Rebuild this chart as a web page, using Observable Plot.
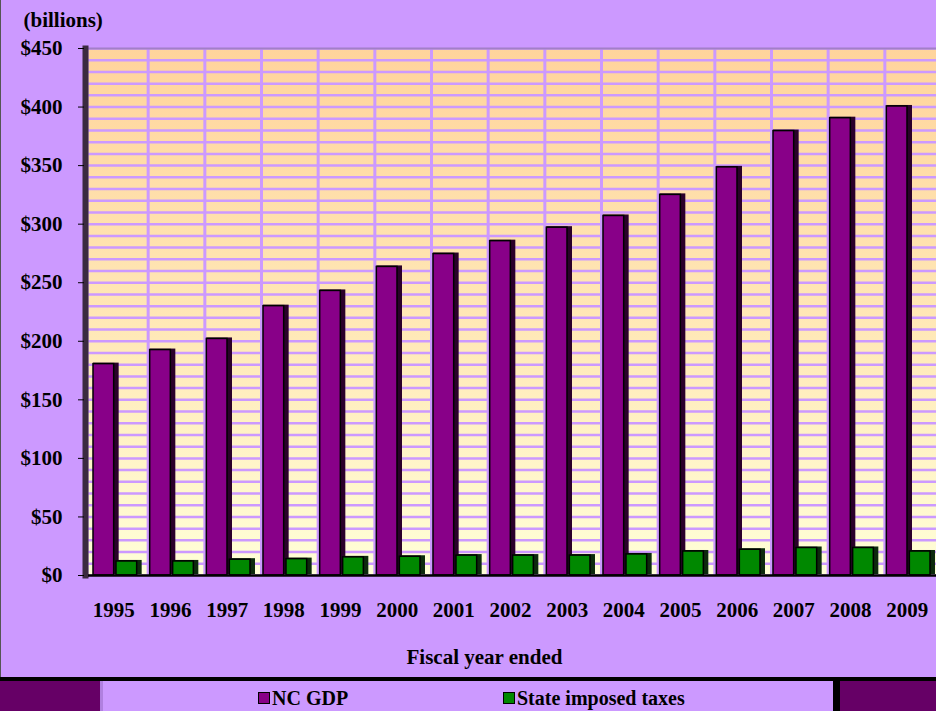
<!DOCTYPE html>
<html>
<head>
<meta charset="utf-8">
<script src="https://cdn.jsdelivr.net/npm/d3@7"></script>
<script src="https://cdn.jsdelivr.net/npm/@observablehq/plot@0.6"></script>
<style>
  html, body { margin: 0; padding: 0; background: #CC99FF; }
  body { width: 936px; height: 711px; overflow: hidden; font-family: "Liberation Serif", "Times New Roman", serif; }
  #chart { position: relative; width: 935px; height: 677px; border-left: 1px solid #555; }
  #legend { position: relative; width: 936px; height: 34px; border-top: 4px solid #000; box-sizing: border-box; background: #CC99FF; }
  .blk { position: absolute; top: 0; height: 30px; background: #660066; }
  .item { position: absolute; top: 5px; font-weight: bold; font-size: 20px; line-height: 24px; color: #000; display: flex; align-items: center; }
  .sw { width: 10px; height: 10px; border: 1.5px solid #000; margin-right: 2px; }
</style>
</head>
<body>
<div id="chart"></div>
<div id="legend">
  <div class="blk" style="left:0;width:103px;border-right:3px solid #b080e0;box-sizing:border-box;"></div>
  <div class="blk" style="left:833px;width:103px;border-left:7px solid #000;box-sizing:border-box;"></div>
  <div class="item" style="left:258px;"><span class="sw" style="background:#880088"></span>NC GDP</div>
  <div class="item" style="left:503px;"><span class="sw" style="background:#008800"></span>State imposed taxes</div>
</div>
<script>
const years = ["1995","1996","1997","1998","1999","2000","2001","2002","2003","2004","2005","2006","2007","2008","2009"];
const ncGdp = [180.5, 192.5, 202, 230, 243, 263.5, 274.5, 285.5, 297, 307, 325, 348.5, 379.5, 390.5, 400.5];
const stateTaxes = [12, 12, 13.5, 14, 15.5, 16, 17, 17, 17, 18, 20.5, 22, 23.5, 23.5, 20.5];
const yTicks = [0, 50, 100, 150, 200, 250, 300, 350, 400, 450];
const seriesNames = ["NC GDP", "State imposed taxes"];

const gdpData = years.map((y, i) => ({year: y, value: ncGdp[i]}));
const taxData = years.map((y, i) => ({year: y, value: stateTaxes[i]}));
const gridVals = d3.range(0, 451, 10);

const xRange = [90, 940];
const halfBand = (xRange[1] - xRange[0]) / years.length / 2;

const fontFamily = "Liberation Serif, Times New Roman, serif";

const chart = Plot.plot({
  width: 935,
  height: 677,
  marginLeft: 87,
  marginRight: 0,
  marginTop: 48,
  marginBottom: 102,
  style: {background: "transparent", fontFamily, fontWeight: "bold", fontSize: "21px", color: "#000"},
  x: {type: "band", domain: years, range: xRange, padding: 0, round: false},
  y: {domain: [0, 450], range: [575, 48]},
  marks: [
    Plot.frame({fill: "url(#bgGrad)"}),
    Plot.ruleY(gridVals, {y: d => d, stroke: "#CC99FF", strokeWidth: 2.5}),
    Plot.ruleX(years, {x: d => d, dx: halfBand, stroke: "#CC99FF", strokeWidth: 3}),
    Plot.frame({anchor: "top", stroke: "#a27fc8", strokeWidth: 2}),
    Plot.frame({anchor: "left", stroke: "#3b2a40", strokeWidth: 6, dx: -3}),
    // NC GDP: shadow + face
    Plot.barY(gdpData, {x: "year", y: "value", fill: "#2a002a", insetLeft: 2, insetRight: 29, dy: -1}),
    Plot.barY(gdpData, {x: "year", y: "value", fill: "#880088", stroke: "#000", strokeWidth: 1.5, insetLeft: 2, insetRight: 34}),
    // State taxes: shadow + face
    Plot.barY(taxData, {x: "year", y: "value", fill: "#0d2a0d", insetLeft: 25, insetRight: 6, dy: -1}),
    Plot.barY(taxData, {x: "year", y: "value", fill: "#008800", stroke: "#000", strokeWidth: 1.5, insetLeft: 25, insetRight: 11}),
    Plot.ruleY([0], {stroke: "#000", strokeWidth: 2.5}),
    Plot.axisY({ticks: yTicks, tickFormat: d => "$" + d, tickSize: 6, tickPadding: 16, dx: -4, label: null, fontSize: 21, fontWeight: "bold"}),
    Plot.axisX({tickSize: 0, tickPadding: 27, dx: -6, label: null, fontSize: 21, fontWeight: "bold"}),
    Plot.text(["(billions)"], {frameAnchor: "top-left", text: d => d, textAnchor: "start", lineAnchor: "bottom", dx: -65, dy: -22, fontSize: 21, fontWeight: "bold", fill: "#000"}),
    Plot.text(["Fiscal year ended"], {frameAnchor: "bottom", text: d => d, lineAnchor: "top", dx: -28, dy: 74, fontSize: 21, fontWeight: "bold", fill: "#000"})
  ]
});

const svg = d3.select(chart);
const defs = svg.insert("defs", ":first-child");
const g = defs.append("linearGradient").attr("id", "bgGrad").attr("x1", 0).attr("y1", 0).attr("x2", 0).attr("y2", 1);
g.append("stop").attr("offset", "0%").attr("stop-color", "#FFD49C");
g.append("stop").attr("offset", "55%").attr("stop-color", "#FFE9B8");
g.append("stop").attr("offset", "100%").attr("stop-color", "#FFFFD8");

document.getElementById("chart").appendChild(chart);
</script>
</body>
</html>
